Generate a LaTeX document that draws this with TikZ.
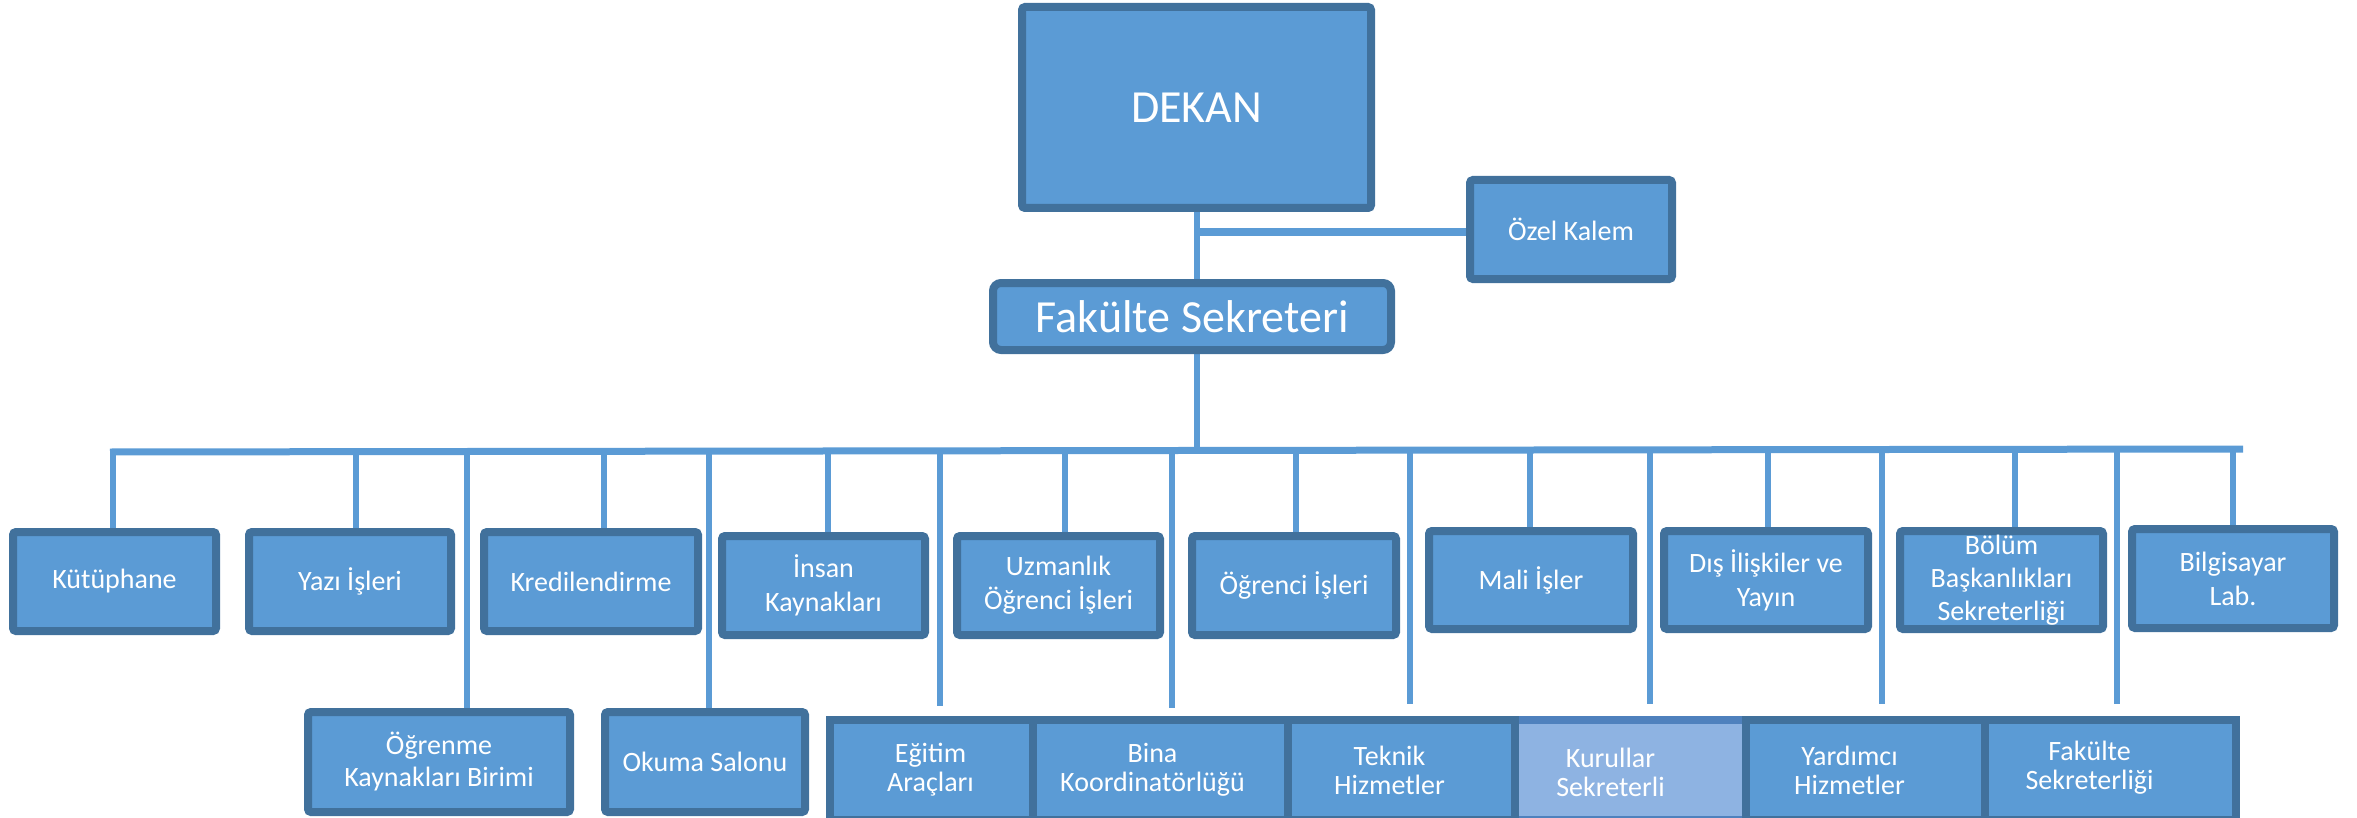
\documentclass[tikz,border=0pt]{standalone}
\usepackage{fontspec}
\setmainfont{Carlito}
\pgfdeclarelayer{bg}
\pgfsetlayers{bg,main}
\definecolor{boxfill}{RGB}{91,155,213}
\definecolor{boxedge}{RGB}{65,113,156}
\definecolor{kurfill}{RGB}{142,179,226}
\definecolor{kuredge}{RGB}{79,129,189}
\tikzset{
  unitbox/.style={draw=boxedge, fill=boxfill, line width=8pt, rounded corners=3pt, inner sep=0pt,
    text=white, align=center, font=\fontsize{28}{34}\selectfont},
  cellbox/.style={unitbox, rounded corners=0pt},
  txt/.style={text=white, align=center, font=\fontsize{28}{29}\selectfont, inner sep=0pt},
  bigtxt/.style={font=\fontsize{46}{55}\selectfont},
  conn/.style={draw=boxfill, line width=6pt},
  busline/.style={draw=boxfill, line width=7pt},
}
\newcommand\dn[2]{\raisebox{-#1pt}{#2}}
\begin{document}
\begin{tikzpicture}[x=1pt,y=-1pt]
\useasboundingbox (0,0) rectangle (2357,818);

% top
\node[unitbox, bigtxt, minimum width=349pt, minimum height=201pt] (dekan) at (1196.5,107.5) {\dn{3}{DEKAN}};
\node[unitbox, bigtxt, rounded corners=8pt, minimum width=398pt, minimum height=67pt] (fs) at (1192,316.5) {\dn{5}{Fakülte Sekreteri}};
\node[unitbox, minimum width=202pt, minimum height=99pt] (ozel) at (1571,229.5) {\dn{1}{Özel Kalem}};

% first row
\node[unitbox, minimum width=203pt, minimum height=99pt] (kut) at (114.5,581.5) {\dn{4}{Kütüphane}};
\node[unitbox, minimum width=202pt, minimum height=99pt] (yazi) at (350,581.5) {\dn{3}{Yazı İşleri}};
\node[unitbox, minimum width=214pt, minimum height=99pt] (kred) at (591,581.5) {\dn{3}{Kredilendirme}};
\node[unitbox, minimum width=203pt, minimum height=99pt] (insan) at (823.5,585.5) {İnsan\\Kaynakları};
\node[unitbox, minimum width=203pt, minimum height=99pt] (uzm) at (1058.5,585.5) {Uzmanlık\\Öğrenci İşleri};
\node[unitbox, minimum width=204pt, minimum height=99pt] (ogr) at (1294,585.5) {\dn{3}{Öğrenci İşleri}};
\node[unitbox, minimum width=204pt, minimum height=98pt] (mali) at (1531,580) {\dn{2}{Mali İşler}};
\node[unitbox, minimum width=204pt, minimum height=98pt] (dis) at (1766,580) {Dış İlişkiler ve\\Yayın};
\node[unitbox, minimum width=203pt, minimum height=98pt, font=\fontsize{28}{33}\selectfont] (bolum) at (2001.5,580) {Bölüm\\Başkanlıkları\\Sekreterliği};
\node[unitbox, minimum width=202pt, minimum height=99pt] (bilg) at (2233,578.5) {Bilgisayar\\Lab.};

% second row
\node[unitbox, minimum width=262pt, minimum height=100pt, font=\fontsize{28}{32}\selectfont] (ogrk) at (439,762) {Öğrenme\\Kaynakları Birimi};
\node[unitbox, minimum width=200pt, minimum height=100pt] (okuma) at (705,762) {Okuma Salonu};

\node[cellbox, draw=kuredge, fill=kurfill, minimum width=231pt, minimum height=100pt] (kur) at (1630.5,770) {};
\node[cellbox, minimum width=203pt, minimum height=100pt] (egit) at (931.5,770) {};
\node[cellbox, minimum width=255pt, minimum height=100pt] (bina) at (1160.5,770) {};
\node[cellbox, minimum width=227pt, minimum height=100pt] (tek) at (1401.5,770) {};
\node[cellbox, minimum width=239pt, minimum height=100pt] (yard) at (1865.5,770) {};
\node[cellbox, minimum width=251pt, minimum height=100pt] (fsek) at (2110.5,770) {};

\node[txt] (t-egit) at ([xshift=-1pt]egit.center) {Eğitim\\Araçları};
\node[txt] (t-bina) at ([xshift=-8pt]bina.center) {Bina\\Koordinatörlüğü};
\node[txt] (t-tek) at ([xshift=-12pt]tek.center) {Teknik\\Hizmetler};
\node[txt] (t-kur) at ([xshift=-20pt,yshift=-2pt]kur.center) {Kurullar\\Sekreterli};
\node[txt] (t-yard) at ([xshift=-16pt]yard.center) {Yardımcı\\Hizmetler};
\node[txt] (t-fsek) at ([xshift=-21pt,yshift=2pt]fsek.center) {Fakülte\\Sekreterliği};

% bus coordinates
\coordinate (busL) at (110,452);
\coordinate (busR) at (2243,449);
\coordinate (bt) at (1197,450);
\coordinate (oz) at (1197,232);
\coordinate (d1) at (113,451);
\coordinate (d2) at (356,451);
\coordinate (d3) at (604,451);
\coordinate (d4) at (828,451);
\coordinate (d5) at (1065,451);
\coordinate (d6) at (1296,451);
\coordinate (d7) at (1530,451);
\coordinate (d8) at (1768,451);
\coordinate (d9) at (2015,451);
\coordinate (d10) at (2233,450);
\coordinate (e1) at (467,451);
\coordinate (e2) at (709,451);
\coordinate (e3) at (940,451);
\coordinate (e4) at (1172,451);
\coordinate (e5) at (1410,451);
\coordinate (e6) at (1650,451);
\coordinate (e7) at (1882,451);
\coordinate (e8) at (2117,451);

\begin{pgfonlayer}{bg}
  \draw[conn] (dekan.south) -- (dekan.south |- fs.north);
  \draw[conn, line width=8pt] (oz) -- (oz -| ozel.west);
  \draw[conn] (fs.south -| bt) -- (bt);
  \draw[busline] (busL) -- (busR);
  \draw[conn] (d1) -- (d1 |- kut.north);
  \draw[conn] (d2) -- (d2 |- yazi.north);
  \draw[conn] (d3) -- (d3 |- kred.north);
  \draw[conn] (d4) -- (d4 |- insan.north);
  \draw[conn] (d5) -- (d5 |- uzm.north);
  \draw[conn] (d6) -- (d6 |- ogr.north);
  \draw[conn] (d7) -- (d7 |- mali.north);
  \draw[conn] (d8) -- (d8 |- dis.north);
  \draw[conn] (d9) -- (d9 |- bolum.north);
  \draw[conn] (d10) -- (d10 |- bilg.north);
  \draw[conn] (e1) -- (e1 |- ogrk.north);
  \draw[conn] (e2) -- (e2 |- okuma.north);
  \draw[conn] (e3) -- ([yshift=10pt]e3 |- egit.north);
  \draw[conn] (e4) -- ([yshift=8pt]e4 |- bina.north);
  \draw[conn] (e5) -- ([yshift=12pt]e5 |- tek.north);
  \draw[conn] (e6) -- ([yshift=12pt]e6 |- kur.north);
  \draw[conn] (e7) -- ([yshift=12pt]e7 |- yard.north);
  \draw[conn] (e8) -- ([yshift=12pt]e8 |- fsek.north);
\end{pgfonlayer}
\end{tikzpicture}
\end{document}
